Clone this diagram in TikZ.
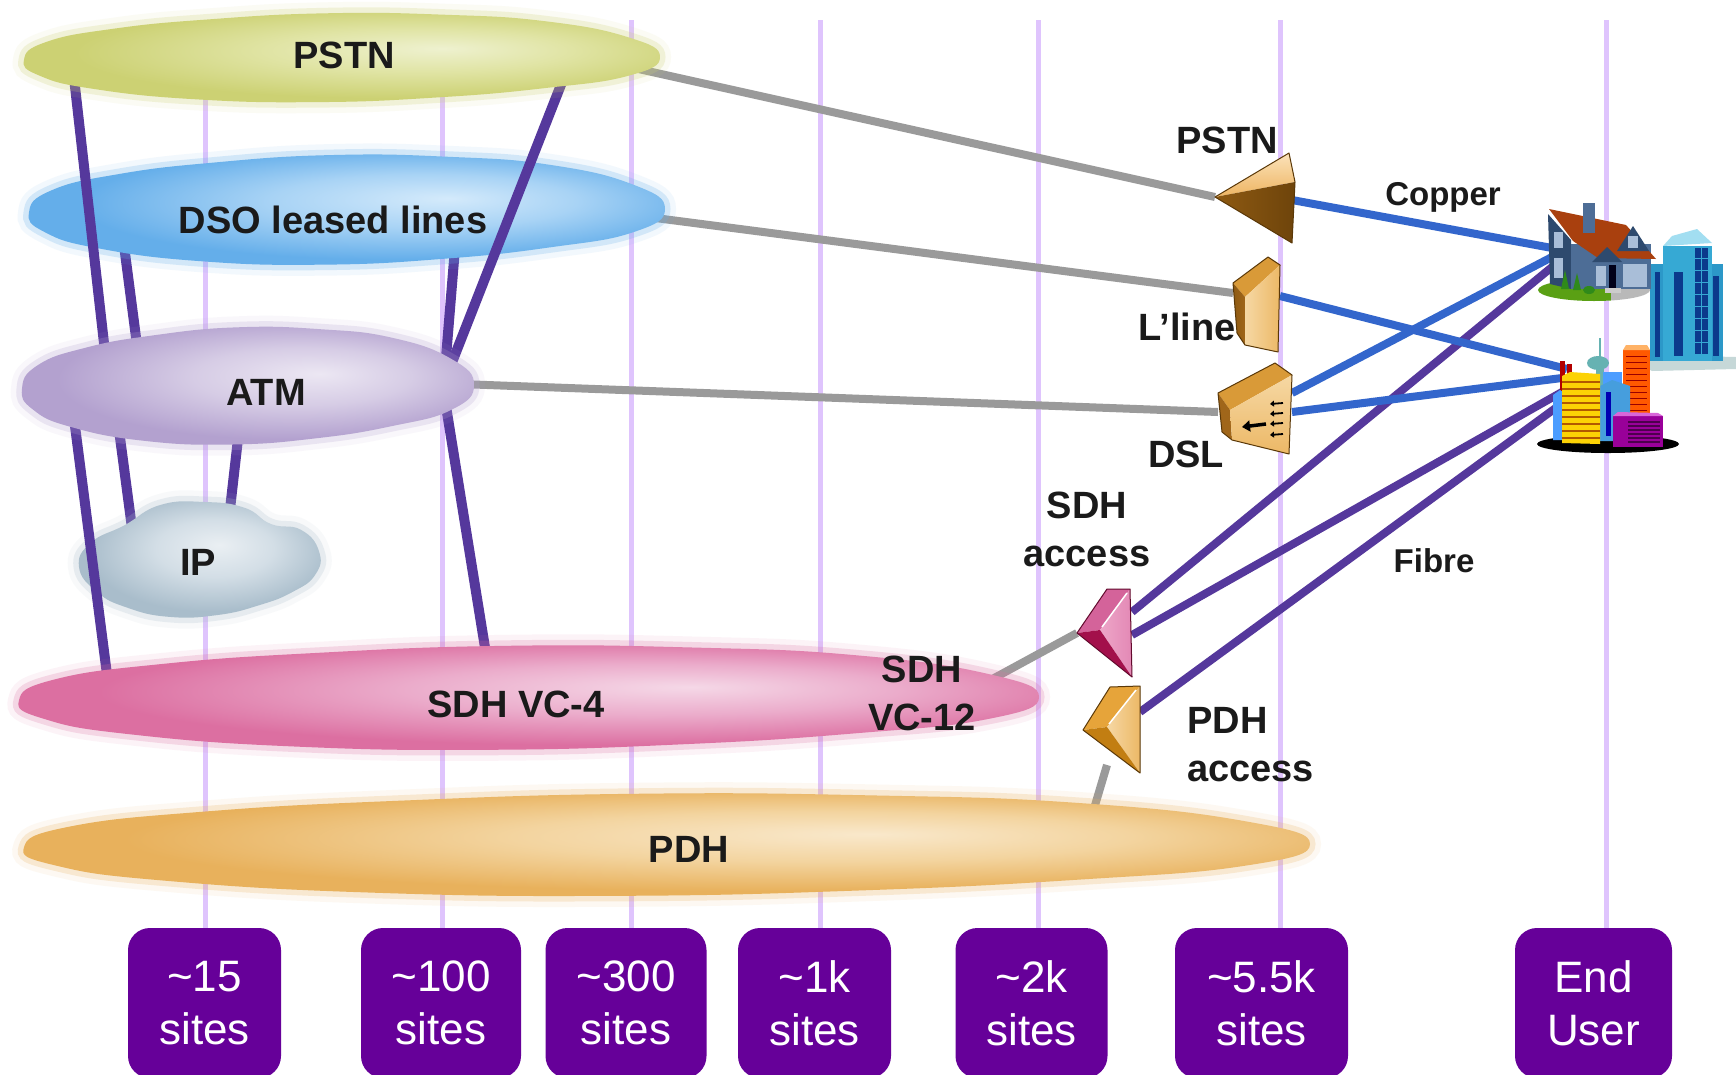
\documentclass[tikz,border=0pt]{standalone}
\usepackage{fontspec}
\setmainfont{Liberation Sans}
\usetikzlibrary{arrows.meta}

% general palette
\definecolor{gridlav}{HTML}{DFC4FD}
\definecolor{boxpurple}{HTML}{660099}
\definecolor{linkgrey}{HTML}{9A9A9A}
\definecolor{copperblue}{HTML}{3366CC}
\definecolor{fibrepurple}{HTML}{55389C}
\definecolor{labelink}{HTML}{1A1A1A}

% device palette
\definecolor{goldHi}{HTML}{FBE2BA}\definecolor{goldMid}{HTML}{EEB562}
\definecolor{goldTop}{HTML}{D99A38}\definecolor{goldSide}{HTML}{A0661A}
\definecolor{goldDark}{HTML}{8E5A12}\definecolor{goldDeep}{HTML}{6E440B}
\definecolor{goldFrontA}{HTML}{F6D8A4}\definecolor{goldFrontB}{HTML}{ECB866}
\definecolor{goldWedge}{HTML}{E6A43A}\definecolor{goldLow}{HTML}{C27E12}
\definecolor{pinkTop}{HTML}{D4639A}\definecolor{pinkFrontA}{HTML}{EDA6C8}
\definecolor{pinkFrontB}{HTML}{E388B5}\definecolor{pinkLow}{HTML}{A3104B}
\definecolor{devEdge}{HTML}{5A3808}

% premises palette
\definecolor{houseWall}{HTML}{4D6D96}\definecolor{houseDark}{HTML}{2E4A6E}
\definecolor{roofBrown}{HTML}{A9400E}\definecolor{houseGlass}{HTML}{A9BED8}
\definecolor{lawn}{HTML}{5AA014}\definecolor{bush}{HTML}{2F8A1A}
\definecolor{towerMain}{HTML}{36A9D4}\definecolor{towerSide}{HTML}{2C98C8}
\definecolor{towerTop}{HTML}{A2DEF1}\definecolor{towerWin}{HTML}{0B3A8C}
\definecolor{towerPlate}{HTML}{C6D8D8}

% cloud palettes: light centre (L), middle (M), edge (E)
\definecolor{PSTNL}{HTML}{EEF1CF}\definecolor{PSTNM}{HTML}{E0E4A4}\definecolor{PSTNE}{HTML}{CCD173}
\definecolor{DSOL}{HTML}{D4EAFB}\definecolor{DSOM}{HTML}{A8D3F5}\definecolor{DSOE}{HTML}{64AEEA}
\definecolor{ATML}{HTML}{ECE7F3}\definecolor{ATMM}{HTML}{D6CCE5}\definecolor{ATME}{HTML}{B3A1CF}
\definecolor{IPL}{HTML}{EAEFF3}\definecolor{IPM}{HTML}{D3DEE6}\definecolor{IPE}{HTML}{A9BDCB}
\definecolor{SDHL}{HTML}{F5D8E7}\definecolor{SDHM}{HTML}{EBACCB}\definecolor{SDHE}{HTML}{DC6FA1}
\definecolor{PDHL}{HTML}{F9E8CB}\definecolor{PDHM}{HTML}{F3D49F}\definecolor{PDHE}{HTML}{E8B15C}

\pgfdeclareradialshading{cloudPSTN}{\pgfpoint{8bp}{5bp}}{color(0bp)=(PSTNL); color(12bp)=(PSTNM); color(25bp)=(PSTNE); color(50bp)=(PSTNE)}
\pgfdeclareradialshading{cloudDSO}{\pgfpoint{8bp}{5bp}}{color(0bp)=(DSOL); color(12bp)=(DSOM); color(25bp)=(DSOE); color(50bp)=(DSOE)}
\pgfdeclareradialshading{cloudATM}{\pgfpoint{8bp}{5bp}}{color(0bp)=(ATML); color(12bp)=(ATMM); color(25bp)=(ATME); color(50bp)=(ATME)}
\pgfdeclareradialshading{cloudIP}{\pgfpoint{4bp}{6bp}}{color(0bp)=(IPL); color(12bp)=(IPM); color(25bp)=(IPE); color(50bp)=(IPE)}
\pgfdeclareradialshading{cloudSDH}{\pgfpoint{8bp}{5bp}}{color(0bp)=(SDHL); color(12bp)=(SDHM); color(25bp)=(SDHE); color(50bp)=(SDHE)}
\pgfdeclareradialshading{cloudPDH}{\pgfpoint{8bp}{5bp}}{color(0bp)=(PDHL); color(12bp)=(PDHM); color(25bp)=(PDHE); color(50bp)=(PDHE)}

% a soft-edged cloud: #1 palette, #2/#3 centre, #4/#5 radii, #6 outline points on the unit blob
\newcommand\softcloud[6]{%
  \begin{scope}[shift={(#2,#3)}, xscale=#4, yscale=#5]
    \draw[draw=#1E, line width=22, draw opacity=0.08] plot[smooth cycle, tension=0.8] coordinates {#6};
    \draw[draw=#1E, line width=11, draw opacity=0.22] plot[smooth cycle, tension=0.8] coordinates {#6};
    \shade[shading=cloud#1] plot[smooth cycle, tension=0.8] coordinates {#6};
  \end{scope}
  \coordinate (#1) at (#2,#3);}

\begin{document}
\begin{tikzpicture}[x=1pt, y=-1pt,
  gridline/.style={draw=gridlav, line width=5},
  sitebox/.style={fill=boxpurple, rounded corners=22, text=white, align=center, inner sep=0pt,
    minimum height=150, font=\fontsize{44}{53}\selectfont},
  meshlink/.style={draw=fibrepurple, line width=10},
  greylink/.style={draw=linkgrey, line width=8},
  copperlink/.style={draw=copperblue, line width=8},
  fibrelink/.style={draw=fibrepurple, line width=8},
  lbl/.style={font=\fontsize{38}{48}\selectfont\bfseries, text=labelink, inner sep=0pt},
  lblsmall/.style={font=\fontsize{33}{40}\selectfont\bfseries, text=labelink, inner sep=0pt},
  face/.style={line join=round},
  outline/.style={line join=round, draw=devEdge, line width=1},
]
\useasboundingbox (0,0) rectangle (1736,1074);
\fill[white] (0,0) rectangle (1736,1074);

% ---------- site-count boxes ----------
\node[sitebox, minimum width=153] (s15)  at (204.5,1003) {\textasciitilde15\\sites};
\node[sitebox, minimum width=160] (s100) at (441,1003)   {\textasciitilde100\\sites};
\node[sitebox, minimum width=161] (s300) at (626,1003)   {\textasciitilde300\\sites};
\node[sitebox, minimum width=153] (s1k)  at (814.5,1003) {\textasciitilde1k\\sites};
\node[sitebox, minimum width=152] (s2k)  at (1031.5,1003){\textasciitilde2k\\sites};
\node[sitebox, minimum width=173] (s55k) at (1261.5,1003){\textasciitilde5.5k\\sites};
\node[sitebox, minimum width=157] (user) at (1593.5,1003){End\\User};

% ---------- vertical scale lines ----------
\foreach \b/\x in {s15/205, s100/442, s300/631, s1k/820, s2k/1038, s55k/1280, user/1606}
  \draw[gridline] (\x,20) -- (\x,20 |- \b.north);

% ---------- connection points ----------
\coordinate (pstnDevTip) at (1215,197);
\coordinate (pstnDevOut) at (1292,200);
\coordinate (llineIn)    at (1233,293);
\coordinate (llineOut)   at (1280,296);
\coordinate (dslIn)      at (1218,412);
\coordinate (dslOutA)    at (1292,393);
\coordinate (dslOutB)    at (1292,412);
\coordinate (sdhaTip)    at (1077,633);
\coordinate (sdhaOutA)   at (1132,612);
\coordinate (sdhaOutB)   at (1132,635);
\coordinate (pdhaIn)     at (1107,765);
\coordinate (pdhaOut)    at (1140,712);
\coordinate (houseA) at (1552,248);
\coordinate (houseB) at (1552,257);
\coordinate (houseC) at (1552,267);
\coordinate (cityA)  at (1567,369);
\coordinate (cityB)  at (1562,378);
\coordinate (cityC)  at (1562,392);
\coordinate (cityD)  at (1557,407);

\coordinate (pstnOut) at (625,66);
\coordinate (dsoOut)  at (640,216);
\coordinate (atmOut)  at (460,384);
\coordinate (sdhOut)  at (985,683);
\coordinate (pdhOut)  at (1093,812);

% grey feeds from the networks to the access devices (ends tucked under the clouds)
\draw[greylink] (pstnOut) -- (pstnDevTip);
\draw[greylink] (dsoOut) -- (llineIn);
\draw[greylink] (atmOut) -- (dslIn);
\draw[greylink] (sdhOut) -- (sdhaTip);
\draw[greylink] (pdhOut) -- (pdhaIn);

% ---------- network clouds and the trunks between them ----------
\coordinate (m2a) at (122,230); \coordinate (m2b) at (137,345);
\coordinate (m4a) at (455,248); \coordinate (m4b) at (445,370);
\draw[meshlink] (m2a) -- (m2b);
\draw[meshlink] (m4a) -- (m4b);

\softcloud{DSO}{347}{209}{318}{58}{(-1,0.06) (-0.93,-0.32) (-0.72,-0.6) (-0.42,-0.8) (-0.05,-0.93) (0.32,-0.9) (0.64,-0.76) (0.9,-0.42) (1,0) (0.9,0.4) (0.64,0.66) (0.3,0.86) (-0.08,0.96) (-0.46,0.9) (-0.78,0.68) (-0.95,0.4)}

\coordinate (m1a) at (72,60);  \coordinate (m1b) at (105,352);
\coordinate (m3a) at (566,72); \coordinate (m3b) at (449,370);
\draw[meshlink] (m1a) -- (m1b);
\draw[meshlink] (m3a) -- (m3b);

\softcloud{PSTN}{342}{57}{318}{47}{(-1,0.06) (-0.93,-0.32) (-0.72,-0.6) (-0.42,-0.8) (-0.05,-0.93) (0.32,-0.9) (0.64,-0.76) (0.9,-0.42) (1,0) (0.9,0.4) (0.64,0.66) (0.3,0.86) (-0.08,0.96) (-0.46,0.9) (-0.78,0.68) (-0.95,0.4)}

\coordinate (m6a) at (119,430); \coordinate (m6b) at (132,528);
\coordinate (m7a) at (239,430); \coordinate (m7b) at (229,518);
\draw[meshlink] (m6a) -- (m6b);
\draw[meshlink] (m7a) -- (m7b);

\softcloud{IP}{199}{560}{120}{58}{(-1,0.12) (-0.9,-0.3) (-0.62,-0.6) (-0.32,-0.95) (0.05,-1) (0.38,-0.9) (0.6,-0.62) (0.85,-0.52) (1,-0.15) (0.97,0.25) (0.78,0.55) (0.5,0.78) (0.15,0.95) (-0.25,0.98) (-0.6,0.82) (-0.85,0.55)}

\coordinate (m5a) at (71,395);  \coordinate (m5b) at (109,690);
\coordinate (m8a) at (445,400); \coordinate (m8b) at (487,660);
\draw[meshlink] (m5a) -- (m5b);
\draw[meshlink] (m8a) -- (m8b);

\softcloud{SDH}{529}{697}{510}{55}{(-1,0.06) (-0.93,-0.32) (-0.72,-0.6) (-0.42,-0.8) (-0.05,-0.93) (0.32,-0.9) (0.64,-0.76) (0.9,-0.42) (1,0) (0.9,0.4) (0.64,0.66) (0.3,0.86) (-0.08,0.96) (-0.46,0.9) (-0.78,0.68) (-0.95,0.4)}
\softcloud{PDH}{667}{844}{643}{54}{(-1,0.06) (-0.93,-0.32) (-0.72,-0.6) (-0.42,-0.8) (-0.05,-0.93) (0.32,-0.9) (0.64,-0.76) (0.9,-0.42) (1,0) (0.9,0.4) (0.64,0.66) (0.3,0.86) (-0.08,0.96) (-0.46,0.9) (-0.78,0.68) (-0.95,0.4)}
\softcloud{ATM}{248}{385}{226}{62}{(-1,0.06) (-0.93,-0.32) (-0.72,-0.6) (-0.42,-0.8) (-0.05,-0.93) (0.32,-0.9) (0.64,-0.76) (0.9,-0.42) (1,0) (0.9,0.4) (0.64,0.66) (0.3,0.86) (-0.08,0.96) (-0.46,0.9) (-0.78,0.68) (-0.95,0.4)}

% ---------- network labels ----------
\node[lbl, anchor=base] (tPSTN) at (344,68)  {PSTN};
\node[lbl, anchor=base] (tDSO)  at (333,233) {DSO leased lines};
\node[lbl, anchor=base] (tATM)  at (266,405) {ATM};
\node[lbl, anchor=base] (tIP)   at (198,575) {IP};
\node[lbl, anchor=base] (tVC4)  at (516,717) {SDH VC-4};
\node[lbl, anchor=base] (tPDH)  at (689,862) {PDH};
\node[lbl, align=center] (tVC12) at (922,693.5) {SDH\\VC-12};

% ---------- access labels ----------
\node[lbl, anchor=base] (tPSTNdev) at (1227,153) {PSTN};
\node[lblsmall, anchor=base] (tCopper) at (1443,205) {Copper};
\node[lbl, anchor=base] (tLline) at (1187,340) {L’line};
\node[lbl, anchor=base] (tDSL) at (1186,467) {DSL};
\node[lbl, align=center] (tSDHacc) at (1087,529) {SDH\\access};
\node[lblsmall, anchor=base] (tFibre) at (1434,572) {Fibre};
\node[lbl, align=left, anchor=west] (tPDHacc) at (1187,744.5) {PDH\\access};

% ---------- last-mile links ----------
\draw[fibrelink] (sdhaOutA) -- (houseC);
\draw[copperlink] (pstnDevOut) -- (houseA);
\draw[copperlink] (llineOut) -- (cityA);
\draw[copperlink] (dslOutA) -- (houseB);
\draw[copperlink] (dslOutB) -- (cityB);
\draw[fibrelink] (sdhaOutB) -- (cityC);
\draw[fibrelink] (pdhaOut) -- (cityD);

% ---------- access devices ----------
% PSTN switch (pyramid)
\shade[face, top color=goldHi, bottom color=goldMid]
  (1215,197) -- (1289,153) -- (1295,182) -- cycle;
\shade[face, left color=goldDark, right color=goldDeep]
  (1215,197) -- (1295,182) -- (1292,243) -- cycle;
\draw[outline] (1215,197) -- (1289,153) -- (1295,182) -- (1292,243) -- cycle;

% leased-line unit
\fill[face, goldTop] (1233,283) -- (1268,257) -- (1280,265) -- (1245,297) -- cycle;
\shade[face, left color=goldDark, right color=goldSide]
  (1233,283) -- (1245,297) -- (1245,345) -- (1237,333) -- cycle;
\shade[face, left color=goldFrontA, right color=goldFrontB]
  (1245,297) -- (1280,265) -- (1278,352) -- (1245,345) -- cycle;
\draw[outline] (1233,283) -- (1268,257) -- (1280,265) -- (1278,352) -- (1245,345) -- (1237,333) -- cycle;

% DSL multiplexer
\fill[face, goldTop] (1218,393) -- (1275,363) -- (1292,375) -- (1230,410) -- cycle;
\fill[face, goldSide] (1218,393) -- (1230,410) -- (1232,440) -- (1222,432) -- cycle;
\shade[face, top color=goldFrontA, bottom color=goldFrontB]
  (1230,410) -- (1292,375) -- (1289,454) -- (1232,440) -- cycle;
\draw[outline] (1218,393) -- (1275,363) -- (1292,375) -- (1289,454) -- (1232,440) -- (1222,432) -- cycle;
\draw[line width=3.5, -{Triangle[length=8pt, width=11pt]}] (1266,424) -- (1242,427);
\foreach \yy in {403,413,423,434}
  \draw[line width=1.8, -{Triangle[length=4pt, width=6pt]}] (1283,\yy) -- (1270,\yy+1);

% SDH access multiplexer (pink wedge)
\fill[face, pinkTop] (1077,633) -- (1107,589) -- (1130,589) -- (1100,630) -- cycle;
\shade[face, left color=pinkFrontA, right color=pinkFrontB]
  (1130,589) -- (1132,677) -- (1100,630) -- cycle;
\fill[face, pinkLow] (1077,633) -- (1100,630) -- (1132,677) -- cycle;
\draw[white, line width=1.5] (1127,593) -- (1102,627);
\draw[outline, draw=pinkLow!60!black] (1077,633) -- (1107,589) -- (1130,589) -- (1132,677) -- cycle;

% PDH access multiplexer (gold wedge)
\fill[face, goldWedge] (1083,730) -- (1110,687) -- (1140,686) -- (1107,727) -- cycle;
\shade[face, left color=goldFrontA, right color=goldFrontB]
  (1140,686) -- (1140,773) -- (1107,727) -- cycle;
\fill[face, goldLow] (1083,730) -- (1107,727) -- (1140,773) -- cycle;
\draw[white, line width=1.5] (1136,690) -- (1109,724);
\draw[outline] (1083,730) -- (1110,687) -- (1140,686) -- (1140,773) -- cycle;

% ---------- end-user premises ----------
% office tower
\fill[towerPlate] (1632,361) -- (1647,355) -- (1736,357) -- (1736,369) -- (1652,371) -- cycle;
\fill[towerSide] (1650,264) rectangle (1671,361);
\fill[towerSide] (1708,264) rectangle (1723,361);
\fill[towerMain] (1663,246) rectangle (1712,361);
\fill[towerTop] (1663,246) -- (1672,236) -- (1697,229) -- (1712,243) -- cycle;
\fill[towerWin] (1674,272) rectangle (1683,356);
\fill[towerWin] (1695,248) rectangle (1708,354);
\fill[towerWin] (1713,276) rectangle (1719,356);
\fill[towerWin] (1655,272) rectangle (1660,357);
\foreach \yy in {258,270,...,342} \draw[towerMain, line width=1] (1695,\yy) -- (1708,\yy);
\draw[towerMain, line width=1] (1701.5,248) -- (1701.5,354);

% house
\begin{scope}
  \clip (1594,290) ellipse [x radius=56, y radius=11];
  \fill[lawn] (1530,270) rectangle (1611,305);
  \fill[gray!55] (1611,270) rectangle (1660,305);
\end{scope}
\fill[houseDark] (1548,214) -- (1571,240) -- (1571,289) -- (1550,284) -- cycle;
\fill[houseWall] (1571,244) rectangle (1651,289);
\fill[roofBrown] (1549,209) -- (1626,225) -- (1656,259) -- (1598,258) -- (1573,241) -- cycle;
\fill[houseWall] (1583,203) rectangle (1595,233);
\fill[houseDark] (1617,251) -- (1633,226) -- (1649,251) -- cycle;
\fill[houseGlass] (1628,236) rectangle (1638,248);
\fill[houseDark] (1592,262) -- (1607,247) -- (1622,262) -- cycle;
\fill[houseGlass] (1554,232) rectangle (1563,248);
\fill[houseGlass] (1554,258) rectangle (1563,278);
\fill[houseGlass] (1596,266) rectangle (1606,286);
\fill[houseGlass] (1623,264) rectangle (1647,287);
\fill[black!90!blue] (1609,265) rectangle (1616,288);
\fill[gray!40] (1605,288) rectangle (1621,293);
\fill[bush] (1561,289) -- (1565,270) -- (1569,289) -- cycle;
\fill[bush] (1573,290) -- (1577,273) -- (1581,290) -- cycle;
\fill[bush] (1589,290) ellipse [x radius=6, y radius=4];

% city block
\fill[black] (1608,444) ellipse [x radius=71, y radius=9];
\fill[red!70!black] (1560,361) rectangle (1565,392);
\fill[red!70!black] (1567,364) rectangle (1572,392);
\fill[orange!70!red] (1623,350) rectangle (1650,414);
\fill[orange!60!white] (1626,345) -- (1647,345) -- (1650,350) -- (1623,350) -- cycle;
\foreach \yy in {356,362,...,410} \draw[red!60!black, line width=1] (1626,\yy) -- (1647,\yy);
\draw[teal!60!white, line width=2] (1600,338) -- (1600,358);
\fill[teal!60!white] (1596,366) rectangle (1604,400);
\fill[teal!60!white] (1598,363) ellipse [x radius=11, y radius=7];
\fill[blue!55!cyan!70!white] (1603,372) rectangle (1622,440);
\fill[cyan!70!blue!75!white] (1600,386) -- (1612,380) -- (1630,386) -- (1630,441) -- (1600,441) -- cycle;
\fill[blue!70!black] (1606,392) rectangle (1611,436);
\fill[blue!55!cyan!70!white] (1553,395) -- (1560,390) -- (1568,395) -- (1568,440) -- (1553,440) -- cycle;
\fill[yellow!70!orange] (1562,376) -- (1570,372) -- (1600,374) -- (1600,444) -- (1562,443) -- cycle;
\foreach \yy in {382,389,...,438} \draw[orange!70!black, line width=1.3] (1562,\yy) -- (1600,\yy);
\fill[violet!80!magenta] (1613,416) rectangle (1663,447);
\fill[violet!50!magenta!60!white] (1613,416) -- (1618,412) -- (1658,413) -- (1663,416) -- cycle;
\foreach \yy in {422,426,...,442} \draw[violet!60!black, line width=1.2] (1628,\yy) -- (1660,\yy);
\end{tikzpicture}
\end{document}
